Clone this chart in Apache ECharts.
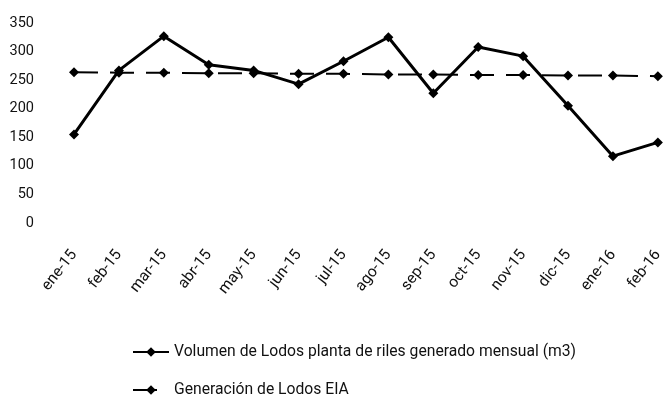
<!DOCTYPE html>
<html>
<head>
<meta charset="utf-8">
<script src="https://cdn.jsdelivr.net/npm/echarts@6/dist/echarts.min.js"></script>
<style>
  html, body { margin: 0; padding: 0; background: #fff; }
  #chart { width: 666px; height: 400px; }
</style>
</head>
<body>
<div id="chart"></div>
<script>
// categorias (meses)
var meses = ['ene-15', 'feb-15', 'mar-15', 'abr-15', 'may-15', 'jun-15', 'jul-15',
             'ago-15', 'sep-15', 'oct-15', 'nov-15', 'dic-15', 'ene-16', 'feb-16'];
// volumen mensual medido (m3)
var volumen = [155, 267, 327, 277, 267, 243, 283, 325, 227, 308, 292, 205, 117, 141];
// generacion segun EIA
var eia = [264, 263, 263, 262, 262, 261, 261, 260, 260, 259, 259, 258, 258, 257];

var nombreVol = 'Volumen de Lodos planta de riles generado mensual (m3)';
var nombreEia = 'Generación de Lodos EIA';

var fuente = 'Roboto, "Noto Sans", sans-serif';

function leyenda(nombre, top) {
    return {
        orient: 'vertical',
        left: 132,
        top: top,
        padding: 0,
        itemWidth: 36,
        itemHeight: 12,
        textStyle: { fontFamily: fuente, fontSize: 15.7, color: '#111' },
        data: [nombre]
    };
}

var chart = echarts.init(document.getElementById('chart'));
var option = {
    animation: false,
    backgroundColor: '#fff',
    textStyle: { fontFamily: fuente, color: '#111' },
    grid: { left: 74, right: 2, top: 23, bottom: 177, containLabel: false },
    legend: [leyenda(nombreVol, 344), leyenda(nombreEia, 382)],
    xAxis: {
        type: 'category',
        data: meses,
        boundaryGap: false,
        axisLine: { show: false },
        axisTick: { show: false },
        axisLabel: {
            rotate: 52,
            margin: 29,
            fontSize: 15.5,
            color: '#111',
            fontFamily: fuente
        }
    },
    yAxis: {
        type: 'value',
        min: 0,
        max: 350,
        interval: 50,
        axisLine: { show: false },
        axisTick: { show: false },
        splitLine: { show: false },
        axisLabel: { margin: 40, fontSize: 14.5, color: '#111', fontFamily: fuente }
    },
    series: [
        {
            name: nombreVol,
            type: 'line',
            data: volumen,
            symbol: 'diamond',
            symbolSize: 10,
            lineStyle: { color: '#000', width: 3 },
            itemStyle: { color: '#000' },
            z: 3
        },
        {
            name: nombreEia,
            type: 'line',
            data: eia,
            symbol: 'diamond',
            symbolSize: 10,
            lineStyle: { color: '#000', width: 2, type: [24, 12] },
            itemStyle: { color: '#000' },
            z: 2
        }
    ]
};
chart.setOption(option);
</script>
</body>
</html>
